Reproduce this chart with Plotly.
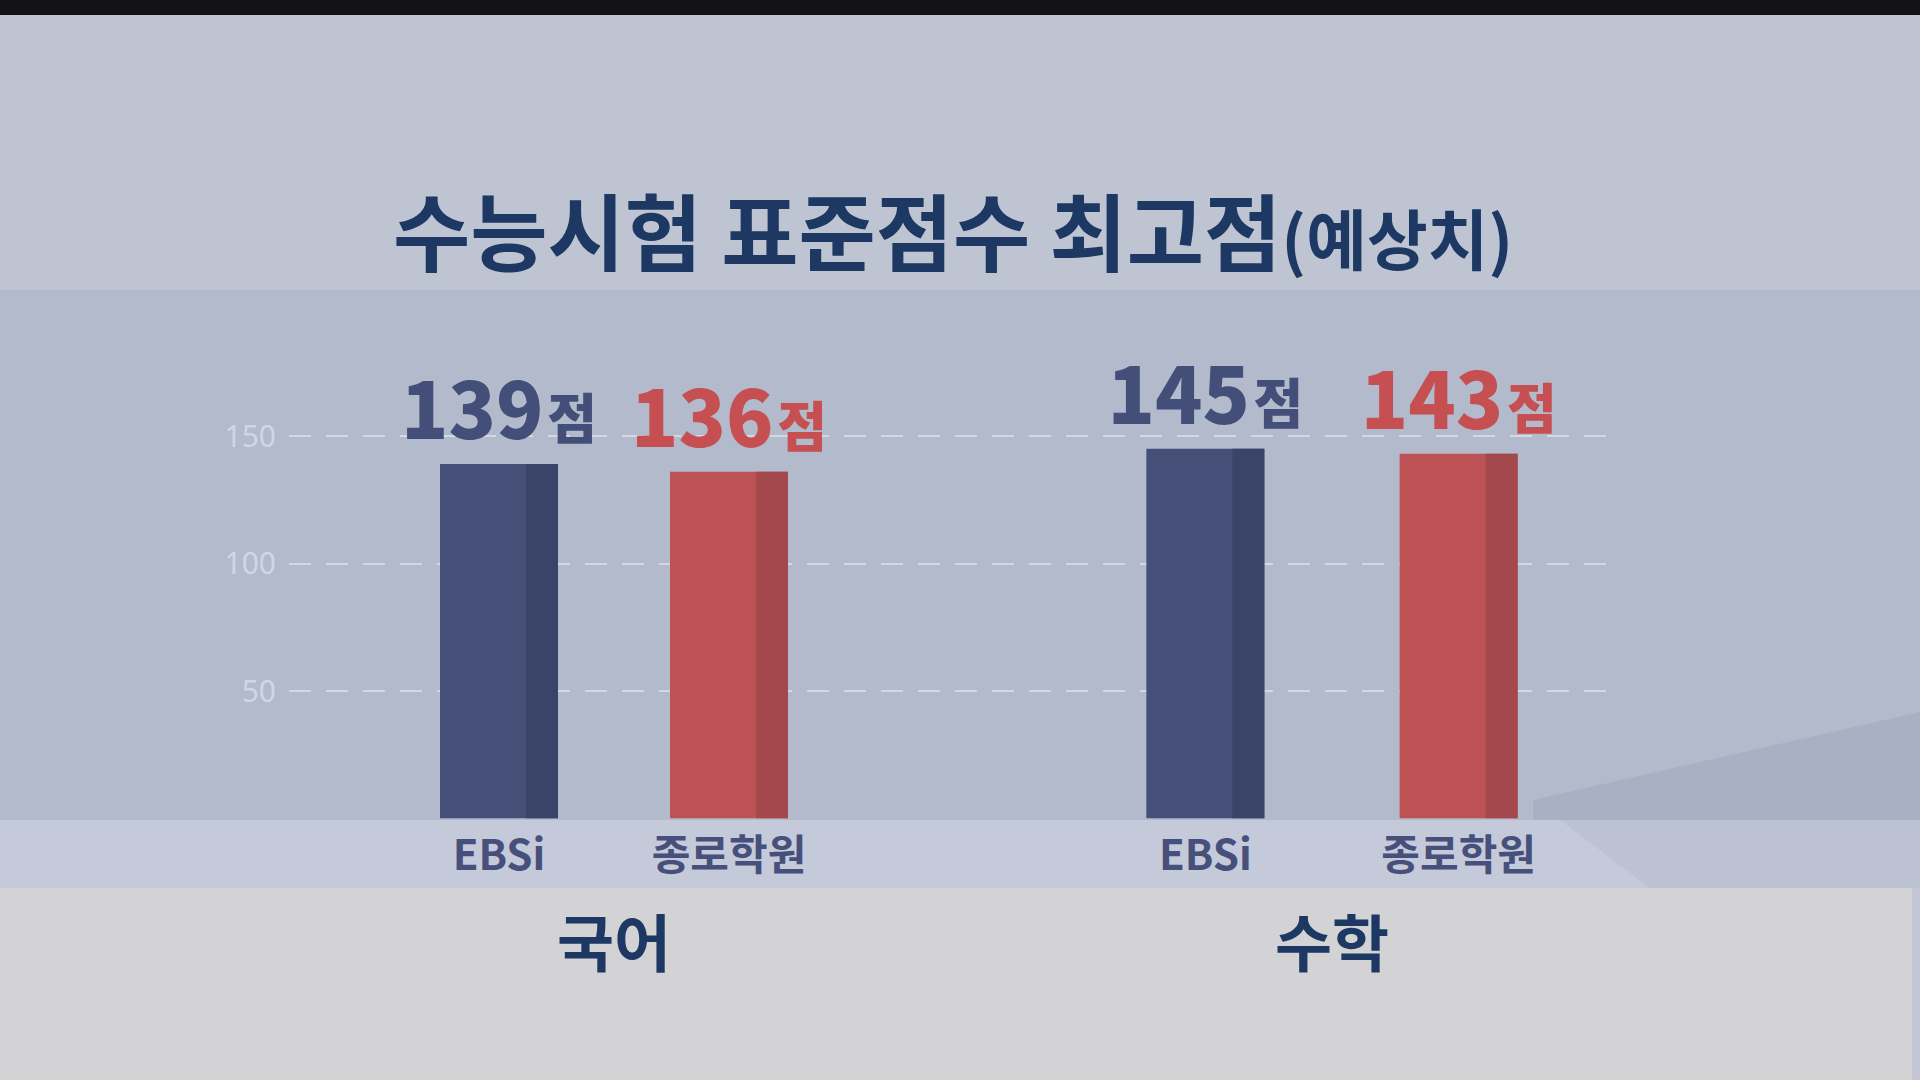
import plotly.graph_objects as go

# ---------------- data ----------------
subjects = ["국어", "수학"]
sources = ["EBSi", "종로학원"]
scores_korean = [139, 136]
scores_math = [145, 143]
y_tick_values = [50, 100, 150]
title_main = "수능시험 표준점수 최고점"
title_note = "(예상치)"
unit_label = "점"

# ---------------- styles ----------------
W, H = 1920, 1080
KFONT = "Noto Sans CJK KR"
NAVY = "#454f78"
NAVY_DARK = "#3a4468"
RED = "#bc5253"
RED_DARK = "#a3484c"
NAVY_TEXT = "#434e79"
RED_TEXT = "#c64f51"
TITLE_COLOR = "#1d3963"
TICK_COLOR = "#46507a"


def px_x(x):
    return x / W


def px_y(y):
    return 1 - y / H


# y-axis: value 0 at y=818.5px, 2.55 px per point
Y_RANGE = [0, 170]
y_dom = [px_y(818.5), px_y(818.5 - 170 * 2.55)]

# subplot layouts (pixel geometry of each subject group)
groups = [
    dict(center=614, unit=230.0),   # 국어
    dict(center=1332, unit=253.3),  # 수학
]
BAR_PX = 118
STRIPE_PX = 32

fig = go.Figure()

# empty trace so the base (grid) subplot is drawn
fig.add_trace(go.Scatter(x=[], y=[], xaxis="x", yaxis="y", hoverinfo="skip", showlegend=False))

all_scores = [scores_korean, scores_math]
for i, (subj, scores) in enumerate(zip(subjects, all_scores)):
    g = groups[i]
    xa = "x%d" % (i + 2)
    ya = "y%d" % (i + 2)
    bw = BAR_PX / g["unit"]
    sw = STRIPE_PX / g["unit"]
    fig.add_trace(go.Bar(
        x=sources, y=scores, xaxis=xa, yaxis=ya,
        width=bw,
        marker=dict(color=[NAVY, RED], line=dict(width=0)),
        texttemplate="%{y}<span style='font-size:16px'> </span><span style='font-size:54px'>"
                     + unit_label + "</span>",
        textposition="outside",
        constraintext="none",
        cliponaxis=False,
        textfont=dict(family=KFONT, size=78, color=[NAVY_TEXT, RED_TEXT], weight=900),
        hoverinfo="skip",
        showlegend=False,
    ))
    fig.add_trace(go.Bar(
        x=sources, y=scores, xaxis=xa, yaxis=ya,
        width=sw, offset=bw / 2 - sw,
        marker=dict(color=[NAVY_DARK, RED_DARK], line=dict(width=0)),
        hoverinfo="skip",
        showlegend=False,
    ))

layout_axes = {}
# base axes for the dashed grid and y tick labels
layout_axes["xaxis"] = dict(domain=[px_x(289), px_x(1618)], range=[0, 1], visible=False,
                            fixedrange=True)
layout_axes["yaxis"] = dict(domain=y_dom, range=Y_RANGE, tickvals=y_tick_values,
                            showgrid=True, gridcolor="rgba(222,226,236,0.75)", gridwidth=2,
                            griddash="22px,15px", zeroline=False, showline=False, ticks="",
                            ticklabelstandoff=12,
                            tickfont=dict(family="Noto Sans", size=30, color="rgba(214,219,231,0.9)"),
                            fixedrange=True)
for i, g in enumerate(groups):
    half = g["unit"]  # range [-0.5, 1.5] spans 2 units
    layout_axes["xaxis%d" % (i + 2)] = dict(
        domain=[px_x(g["center"] - half), px_x(g["center"] + half)],
        type="category", range=[-0.5, 1.5], anchor="y%d" % (i + 2),
        showgrid=False, showline=False, zeroline=False, ticks="",
        ticklabelstandoff=8,
        tickfont=dict(family=KFONT, size=42, color=TICK_COLOR, weight="bold"),
        fixedrange=True)
    layout_axes["yaxis%d" % (i + 2)] = dict(
        domain=y_dom, range=Y_RANGE, anchor="x%d" % (i + 2), visible=False,
        showgrid=False, fixedrange=True)


def poly(points):
    return "M " + " L ".join("%f,%f" % (px_x(x), px_y(y)) for x, y in points) + " Z"


shapes = [
    dict(type="rect", xref="paper", yref="paper", x0=0, x1=1, y0=px_y(290), y1=px_y(15),
         fillcolor="#bfc4d3", line=dict(width=0), layer="below"),
    dict(type="rect", xref="paper", yref="paper", x0=0, x1=1, y0=px_y(15), y1=1,
         fillcolor="#121214", line=dict(width=0), layer="below"),
    dict(type="rect", xref="paper", yref="paper", x0=0, x1=1, y0=px_y(820), y1=px_y(290),
         fillcolor="#b3bacb", line=dict(width=0), layer="below"),
    dict(type="path", xref="paper", yref="paper",
         path=poly([(1533, 800), (1920, 712), (1920, 820), (1533, 820)]),
         fillcolor="#aab0c4", line=dict(width=0), layer="below"),
    dict(type="rect", xref="paper", yref="paper", x0=0, x1=1, y0=px_y(888), y1=px_y(820),
         fillcolor="#c5cadb", line=dict(width=0), layer="below"),
    dict(type="path", xref="paper", yref="paper",
         path=poly([(1560, 820), (1920, 820), (1920, 888), (1650, 888)]),
         fillcolor="#bcc1d3", line=dict(width=0), layer="below"),
    dict(type="rect", xref="paper", yref="paper", x0=0, x1=px_x(1912), y0=0, y1=px_y(888),
         fillcolor="#d3d3d6", line=dict(width=0), layer="below"),
    dict(type="rect", xref="paper", yref="paper", x0=px_x(1912), x1=1, y0=0, y1=px_y(888),
         fillcolor="#c3c7d5", line=dict(width=0), layer="below"),
]

annotations = [
    dict(text="<b>" + title_main + "</b><span style='font-size:66px'><b>" + title_note + "</b></span>",
         xref="paper", yref="paper", x=px_x(953), y=px_y(228), xanchor="center", yanchor="middle",
         showarrow=False, font=dict(family=KFONT, size=84, color=TITLE_COLOR, weight=900)),
]
for i, subj in enumerate(subjects):
    annotations.append(dict(
        text="<b>" + subj + "</b>", xref="x%d domain" % (i + 2), yref="paper",
        x=0.5, y=px_y(940), xanchor="center", yanchor="middle", showarrow=False,
        font=dict(family=KFONT, size=62, color=TITLE_COLOR, weight=900)))

fig.update_layout(
    width=W, height=H,
    margin=dict(l=0, r=0, t=0, b=0),
    paper_bgcolor="#bfc4d3",
    plot_bgcolor="rgba(0,0,0,0)",
    barmode="overlay",
    showlegend=False,
    shapes=shapes,
    annotations=annotations,
    **layout_axes,
)

fig.write_html("out.html", config=dict(displayModeBar=False),
               post_script="document.body.style.margin='0';")
